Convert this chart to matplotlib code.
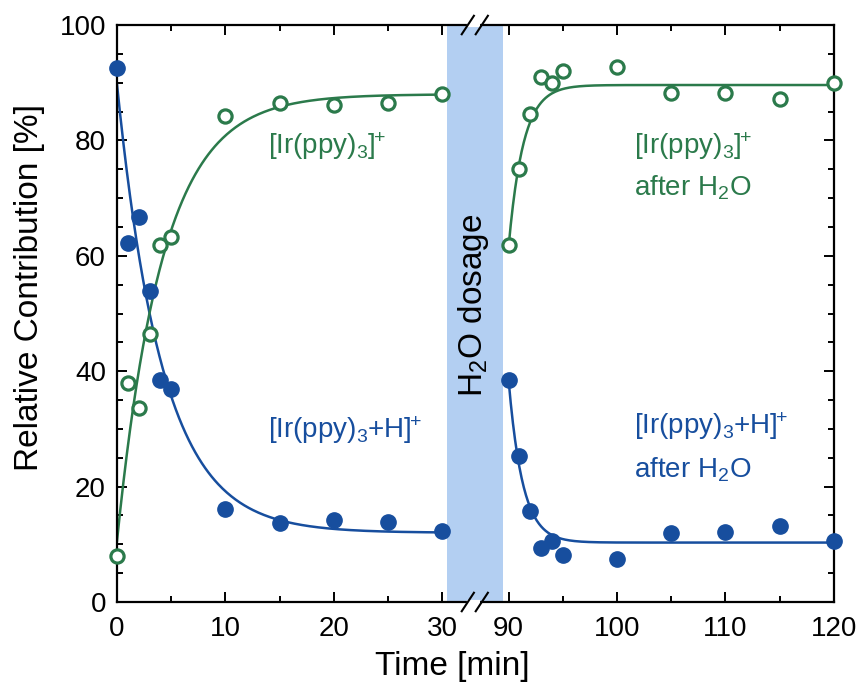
import matplotlib
matplotlib.use("Agg")
import matplotlib.pyplot as plt
import numpy as np
from matplotlib.ticker import FixedLocator, MultipleLocator

plt.rcParams['font.family'] = ['Liberation Sans', 'DejaVu Sans']
plt.rcParams['mathtext.fontset'] = 'custom'
plt.rcParams['mathtext.rm'] = 'Liberation Sans'
plt.rcParams['mathtext.it'] = 'Liberation Sans:italic'
plt.rcParams['mathtext.bf'] = 'Liberation Sans:bold'

# --- data ---
t_before = [0, 1, 2, 3, 4, 5, 10, 15, 20, 25, 30]
protonated_before = [92.5, 62.3, 66.8, 53.9, 38.5, 37.0, 16.1, 13.7, 14.2, 13.8, 12.3]
neutral_before = [7.9, 38.0, 33.6, 46.4, 61.8, 63.2, 84.2, 86.5, 86.1, 86.5, 88.0]

t_after = [90, 91, 92, 93, 94, 95, 100, 105, 110, 115, 120]
protonated_after = [38.5, 25.3, 15.8, 9.4, 10.6, 8.2, 7.5, 12.0, 12.1, 13.2, 10.5]
neutral_after = [61.8, 75.0, 84.6, 91.0, 89.9, 92.1, 92.8, 88.2, 88.2, 87.1, 89.9]

# exponential fit parameters: y = y_inf + (y0 - y_inf) * exp(-(t - t0) / tau)
fit_protonated_before = dict(t0=0, y0=89.7, y_inf=12.0, tau=4.2)
fit_neutral_before = dict(t0=0, y0=10.6, y_inf=88.0, tau=4.2)
fit_protonated_after = dict(t0=90, y0=38.5, y_inf=10.3, tau=1.3)
fit_neutral_after = dict(t0=90, y0=61.5, y_inf=89.6, tau=1.35)

blue = '#174e9e'
green = '#2b7a4b'
band = '#b3cff2'


def fit_curve(t, p):
    return p['y_inf'] + (p['y0'] - p['y_inf']) * np.exp(-(t - p['t0']) / p['tau'])


# --- broken time axis: 30..90 min squeezed into a short gap ---
GAP = 6.1


def fwd(t):
    t = np.asarray(t, dtype=float)
    return np.where(t <= 30, t,
                    np.where(t >= 90, t - 90 + 30 + GAP, 30 + (t - 30) * GAP / 60))


def inv(p):
    p = np.asarray(p, dtype=float)
    return np.where(p <= 30, p,
                    np.where(p >= 30 + GAP, p + 90 - 30 - GAP, 30 + (p - 30) * 60 / GAP))


fig = plt.figure(figsize=(8.61, 6.91), dpi=100)
ax = fig.add_axes([0.1359, 0.1288, 0.8327, 0.835])
ax.set_xscale('function', functions=(fwd, inv))
ax.set_xlim(0, 120)
ax.set_ylim(0, 100)

# H2O dosage band
ax.axvspan(34.0, 85.3, color=band, lw=0, zorder=0)
ax.text(0.4973, 0.515, 'H$_2$O dosage', transform=ax.transAxes, rotation=90,
        ha='center', va='center', fontsize=24, color='black')

# fit curves
tb = np.linspace(0, 30, 300)
ta = np.linspace(90, 120, 300)
ax.plot(tb, fit_curve(tb, fit_protonated_before), color=blue, lw=1.8, zorder=2)
ax.plot(tb, fit_curve(tb, fit_neutral_before), color=green, lw=1.8, zorder=2)
ax.plot(ta, fit_curve(ta, fit_protonated_after), color=blue, lw=1.8, zorder=2)
ax.plot(ta, fit_curve(ta, fit_neutral_after), color=green, lw=1.8, zorder=2)

# data points
for t, y in [(t_before, protonated_before), (t_after, protonated_after)]:
    ax.plot(t, y, 'o', color=blue, ms=11, mec=blue, clip_on=False, zorder=3)
for t, y in [(t_before, neutral_before), (t_after, neutral_after)]:
    ax.plot(t, y, 'o', mfc='white', mec=green, ms=9.5, mew=2.3, clip_on=False, zorder=3)

# labels
lab_fs = 20
ax.text(13.9, 79, r'[Ir(ppy)$_3$]$^{\!\!+}$', color=green, fontsize=lab_fs, ha='left', va='center')
ax.text(13.9, 29.8, r'[Ir(ppy)$_3$+H]$^{\!\!+}$', color=blue, fontsize=lab_fs, ha='left', va='center')
ax.text(101.6, 79, r'[Ir(ppy)$_3$]$^{\!\!+}$', color=green, fontsize=lab_fs, ha='left', va='center')
ax.text(101.6, 71.8, 'after H$_2$O', color=green, fontsize=lab_fs, ha='left', va='center')
ax.text(101.6, 30.5, r'[Ir(ppy)$_3$+H]$^{\!\!+}$', color=blue, fontsize=lab_fs, ha='left', va='center')
ax.text(101.6, 23.0, 'after H$_2$O', color=blue, fontsize=lab_fs, ha='left', va='center')

# ticks
ax.xaxis.set_major_locator(FixedLocator([0, 10, 20, 30, 90, 100, 110, 120]))
ax.xaxis.set_minor_locator(FixedLocator([5, 15, 25, 95, 105, 115]))
ax.set_xticklabels(['0', '10', '20', '30', '90', '100', '110', '120'])
ax.yaxis.set_major_locator(MultipleLocator(20))
ax.yaxis.set_minor_locator(MultipleLocator(5))
ax.tick_params(which='both', direction='in', top=True, right=True, width=1.4,
               labelsize=20, colors='black')
ax.tick_params(which='major', length=7)
ax.tick_params(axis='x', which='major', pad=10)
ax.tick_params(axis='y', which='major', pad=8)
ax.tick_params(which='minor', length=4)
for s in ax.spines.values():
    s.set_linewidth(1.6)

ax.set_xlabel('Time [min]', fontsize=24)
ax.set_ylabel('Relative Contribution [%]', fontsize=24)
ax.xaxis.set_label_coords(0.467, -0.085)
ax.yaxis.set_label_coords(-0.1, 0.545)

# axis break marks "//" on top and bottom spines
for yb in (0, 1):
    ax.plot([0.4910, 0.5040], [yb, yb], color='white', lw=3, transform=ax.transAxes,
            clip_on=False, zorder=5)
    for xb in (0.4893, 0.5088):
        ax.plot([xb - 0.0085, xb + 0.0085], [yb - 0.016, yb + 0.016], color='black', lw=1.5,
                transform=ax.transAxes, clip_on=False, zorder=6)

fig.savefig('out.png', dpi=100)
